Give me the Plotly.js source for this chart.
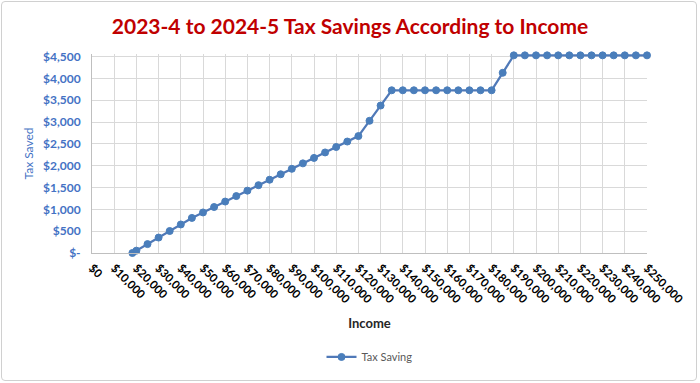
<!DOCTYPE html>
<html>
<head>
<meta charset="utf-8">
<script src="https://cdn.plot.ly/plotly-3.0.1.min.js"></script>
<style>html,body{margin:0;padding:0;background:#fff;}
#wrap{position:relative;width:700px;height:383px;}
#chart{width:700px;height:383px;}
#frame{position:absolute;left:1px;top:1px;width:694px;height:378px;border:1.5px solid #D0D0D0;border-radius:4px;pointer-events:none;}
</style>
</head>
<body>
<div id="wrap"><div id="chart"></div><div id="frame"></div></div>
<script>
const income = [18200, 20000, 25000, 30000, 35000, 40000, 45000, 50000, 55000, 60000,
  65000, 70000, 75000, 80000, 85000, 90000, 95000, 100000, 105000, 110000,
  115000, 120000, 125000, 130000, 135000, 140000, 145000, 150000, 155000, 160000,
  165000, 170000, 175000, 180000, 185000, 190000, 195000, 200000, 205000, 210000,
  215000, 220000, 225000, 230000, 235000, 240000, 245000, 250000];
const taxSaving = [0, 54, 204, 354, 504, 654, 804, 929, 1054, 1179,
  1304, 1429, 1554, 1679, 1804, 1929, 2054, 2179, 2304, 2429,
  2554, 2679, 3029, 3379, 3729, 3729, 3729, 3729, 3729, 3729,
  3729, 3729, 3729, 3729, 4129, 4529, 4529, 4529, 4529, 4529,
  4529, 4529, 4529, 4529, 4529, 4529, 4529, 4529];
const xTickVals = [0, 10000, 20000, 30000, 40000, 50000, 60000, 70000, 80000, 90000,
  100000, 110000, 120000, 130000, 140000, 150000, 160000, 170000, 180000, 190000,
  200000, 210000, 220000, 230000, 240000, 250000];
const xTickText = ["$0", "$10,000", "$20,000", "$30,000", "$40,000", "$50,000", "$60,000", "$70,000", "$80,000", "$90,000",
  "$100,000", "$110,000", "$120,000", "$130,000", "$140,000", "$150,000", "$160,000", "$170,000", "$180,000", "$190,000",
  "$200,000", "$210,000", "$220,000", "$230,000", "$240,000", "$250,000"];
const yTickVals = [0, 500, 1000, 1500, 2000, 2500, 3000, 3500, 4000, 4500];
const yTickText = ["$-", "$500", "$1,000", "$1,500", "$2,000", "$2,500", "$3,000", "$3,500", "$4,000", "$4,500"];

const FONT = "Lato, 'Open Sans', sans-serif";
const trace = {
  x: income, y: taxSaving, type: 'scatter', mode: 'lines+markers', name: 'Tax Saving',
  cliponaxis: false,
  line: {color: '#5079B8', width: 2.25},
  marker: {color: '#4A7EBB', size: 7, symbol: 'circle', line: {color: '#4A7EBB', width: 1}}
};
const layout = {
  width: 700, height: 383,
  margin: {l: 92, r: 53, t: 54.4, b: 130, pad: 0},
  paper_bgcolor: '#ffffff', plot_bgcolor: '#ffffff',
  font: {family: FONT},
  title: {text: '2023-4 to 2024-5 Tax Savings According to Income',
    font: {family: FONT, size: 21, color: '#C00000', weight: 'bold'},
    x: 0.5, xanchor: 'center', yref: 'container', y: 0.93, yanchor: 'middle'},
  xaxis: {
    range: [0, 250000], tickmode: 'array', tickvals: xTickVals, ticktext: xTickText,
    tickangle: 45, tickfont: {family: FONT, size: 11.5, color: '#000000', weight: 'bold'},
    showgrid: true, gridcolor: '#D9D9D9', gridwidth: 1,
    showline: true, linecolor: '#BFBFBF', linewidth: 1, zeroline: false,
    ticks: '', ticklabelstandoff: 3, fixedrange: true,
    title: {text: 'Income', font: {family: FONT, size: 13, color: '#262626', weight: 'bold'}, standoff: 14}
  },
  yaxis: {
    range: [0, 4560], tickmode: 'array', tickvals: yTickVals, ticktext: yTickText,
    tickfont: {family: FONT, size: 12, color: '#4472C4', weight: 'bold'},
    showgrid: true, gridcolor: '#D9D9D9', gridwidth: 1,
    showline: true, linecolor: '#BFBFBF', linewidth: 1, zeroline: false,
    ticks: '', ticklabelstandoff: 8, fixedrange: true,
    title: {text: 'Tax Saved', font: {family: FONT, size: 12, color: '#4472C4'}, standoff: 6}
  },
  showlegend: true,
  legend: {orientation: 'h', x: 0.5, xanchor: 'center', yref: 'container', y: 0.068, yanchor: 'middle',
    font: {family: FONT, size: 11, color: '#595959'}, bgcolor: 'rgba(0,0,0,0)'}
};
Plotly.newPlot('chart', [trace], layout, {displayModeBar: false, staticPlot: true});
</script>
</body>
</html>
